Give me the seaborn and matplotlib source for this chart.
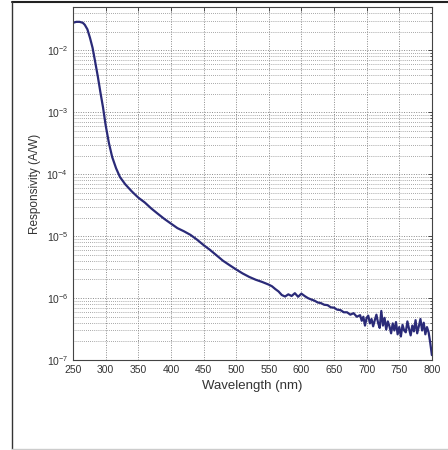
import numpy as np
import pandas as pd
import seaborn as sns
import matplotlib.pyplot as plt
from matplotlib.lines import Line2D
from matplotlib.ticker import LogLocator, NullFormatter

##########################
###Data###
##########################
wavelength_nm = [
    250, 255, 260, 265, 268, 272, 276, 280, 284, 288, 292, 296, 300, 305, 310,
    316, 322, 330, 340, 350, 360, 370, 380, 390, 400, 410, 420, 430, 440, 450,
    460, 470, 480, 490, 500, 510, 520, 530, 540, 550, 555, 560, 565, 570, 575,
    580, 585, 590, 595, 600, 605, 610, 615, 620, 625, 630, 635, 640, 645, 650,
    655, 660, 665, 670, 675, 680, 685, 690,
    692.5, 695, 697.5, 700, 702.5, 705, 707.5, 710, 712.5, 715, 717.5, 720,
    722.5, 725, 727.5, 730, 732.5, 735, 737.5, 740, 742.5, 745, 747.5, 750,
    752.5, 755, 757.5, 760, 762.5, 765, 767.5, 770, 772.5, 775, 777.5, 780,
    782.5, 785, 787.5, 790, 792.5, 795, 797.5, 800,
]
responsivity_aw = [
    2.8e-2, 2.9e-2, 2.9e-2, 2.8e-2, 2.6e-2, 2.2e-2, 1.6e-2, 1.1e-2, 6.5e-3,
    3.8e-3, 2.1e-3, 1.2e-3, 6.2e-4, 3.2e-4, 1.9e-4, 1.25e-4, 9.0e-5, 6.9e-5,
    5.3e-5, 4.2e-5, 3.5e-5, 2.8e-5, 2.3e-5, 1.9e-5, 1.6e-5, 1.35e-5, 1.2e-5,
    1.05e-5, 8.8e-6, 7.2e-6, 6.0e-6, 4.9e-6, 4.0e-6, 3.4e-6, 2.9e-6, 2.5e-6,
    2.2e-6, 1.98e-6, 1.82e-6, 1.65e-6, 1.55e-6, 1.4e-6, 1.28e-6, 1.12e-6, 1.06e-6,
    1.15e-6, 1.08e-6, 1.2e-6, 1.05e-6, 1.18e-6, 1.08e-6, 1.0e-6, 9.5e-7, 9.1e-7,
    8.5e-7, 8.3e-7, 7.8e-7, 7.7e-7, 7.1e-7, 7.0e-7, 6.5e-7, 6.4e-7, 5.9e-7,
    5.9e-7, 5.4e-7, 5.7e-7, 5.0e-7, 5.3e-7,
    4.3e-7, 5.0e-7, 3.6e-7, 4.8e-7, 5.2e-7, 3.9e-7, 4.6e-7, 3.5e-7, 4.4e-7,
    5.4e-7, 4.0e-7, 3.3e-7, 6.2e-7, 3.6e-7, 4.8e-7, 3.1e-7, 4.2e-7, 3.5e-7,
    2.7e-7, 3.9e-7, 3.0e-7, 4.1e-7, 2.6e-7, 3.4e-7, 2.4e-7, 3.7e-7, 3.0e-7,
    2.8e-7, 4.2e-7, 3.2e-7, 2.5e-7, 3.6e-7, 2.9e-7, 4.4e-7, 2.7e-7, 3.5e-7,
    4.6e-7, 3.0e-7, 4.0e-7, 2.6e-7, 3.4e-7, 2.8e-7, 1.9e-7, 1.2e-7,
]
x_ticks = [250, 300, 350, 400, 450, 500, 550, 600, 650, 700, 750, 800]

df = pd.DataFrame({"wavelength": wavelength_nm, "responsivity": responsivity_aw})

###########
###Style###
###########
sns.set_style("white")
plt.rcParams["font.family"] = ["Liberation Sans", "DejaVu Sans"]
text_col = "#333333"
grid_col = "#8a8a8a"

fig = plt.figure(figsize=(4.48, 4.5), dpi=100)
ax = fig.add_axes([0.163, 0.2, 0.801, 0.784])

sns.lineplot(data=df, x="wavelength", y="responsivity", ax=ax,
             color="#2a2a78", linewidth=1.6)

ax.set_yscale("log")
ax.set_xlim(250, 800)
ax.set_ylim(1e-7, 5e-2)
ax.set_xticks(x_ticks)
ax.yaxis.set_major_locator(LogLocator(base=10, numticks=12))
ax.yaxis.set_minor_locator(LogLocator(base=10, subs=np.arange(2, 10), numticks=12))
ax.yaxis.set_minor_formatter(NullFormatter())

ax.grid(True, which="major", axis="both", linestyle=(0, (1, 1.5)), color=grid_col, linewidth=0.7)
ax.grid(True, which="minor", axis="y", linestyle=(0, (1, 1.5)), color=grid_col, linewidth=0.6)

ax.tick_params(which="both", direction="in", top=True, right=True, colors=text_col,
               labelsize=7.5, length=3, width=0.6)
ax.tick_params(which="minor", length=1.5)
for s in ax.spines.values():
    s.set_color("#444444")
    s.set_linewidth(0.8)

ax.set_xlabel("Wavelength (nm)", fontsize=9.5, color=text_col, labelpad=4)
ax.set_ylabel("Responsivity (A/W)", fontsize=8.5, color=text_col, labelpad=4)

# outer frame of the figure
fig.add_artist(Line2D([12 / 448, 1], [1 - 2 / 450, 1 - 2 / 450], color="#222222", linewidth=1.5))
fig.add_artist(Line2D([12 / 448, 12 / 448], [1 / 450, 1 - 2 / 450], color="#333333", linewidth=1.0))
fig.add_artist(Line2D([12 / 448, 1], [1 / 450, 1 / 450], color="#cccccc", linewidth=1.0))

plt.savefig("out.png", dpi=100)
